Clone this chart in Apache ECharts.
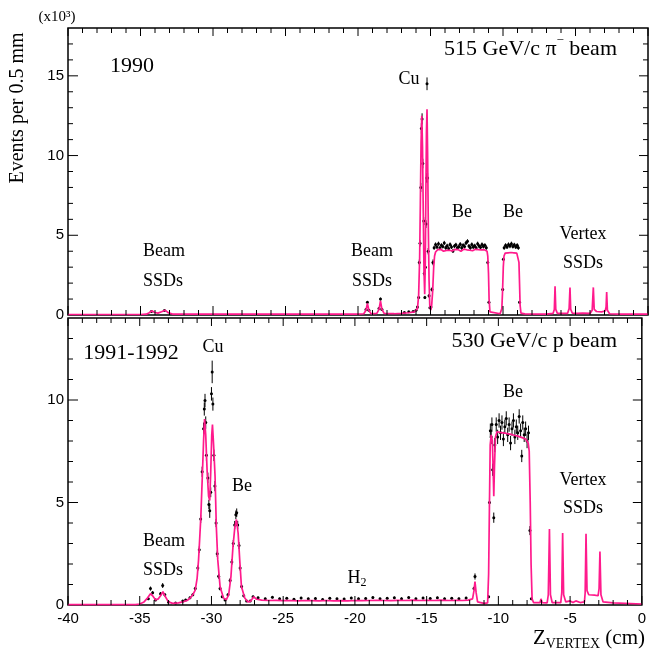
<!DOCTYPE html>
<html>
<head>
<meta charset="utf-8">
<script src="https://cdn.jsdelivr.net/npm/echarts@6/dist/echarts.min.js"></script>
<style>
html, body { margin: 0; padding: 0; background: #fff; }
#chart { width: 649px; height: 654px; }
</style>
</head>
<body>
<div id="chart"></div>
<script>
// Vertex z distributions (events per 0.5 mm, in thousands) for two run periods.
// Simulation curves: [z (cm), events]
const mc1990 = [
  [-40,0.03],[-35.0,0.03],[-34.6,0.05],[-34.4,0.14],[-34.22,0.26],[-34.05,0.17],[-33.8,0.12],[-33.55,0.2],
  [-33.3,0.3],[-33.1,0.15],[-32.8,0.06],[-30,0.05],[-25,0.05],[-20.0,0.05],[-19.6,0.08],[-19.45,0.3],
  [-19.35,0.72],[-19.25,0.3],[-19.1,0.08],[-18.7,0.1],[-18.55,0.35],[-18.45,0.88],[-18.35,0.35],[-18.2,0.1],
  [-17.5,0.08],[-17.0,0.1],[-16.5,0.14],[-16.1,0.2],[-15.9,0.4],[-15.82,1.2],[-15.75,3.5],[-15.7,7.0],
  [-15.65,10.8],[-15.6,12.5],[-15.55,10.5],[-15.5,6.5],[-15.45,2.8],[-15.4,1.3],[-15.36,3.2],[-15.32,7.5],
  [-15.28,11.5],[-15.24,12.9],[-15.2,10.2],[-15.15,5.5],[-15.1,2.2],[-15.05,0.6],[-14.98,0.3],[-14.92,0.6],
  [-14.85,1.5],[-14.78,3.0],[-14.72,3.7],[-14.65,3.95],
  [-14.6,4.02],[-14.5,4.1],[-14.4,4.05],[-14.3,4.12],[-14.2,4.08],[-14.1,4.0],[-14.0,4.1],[-13.9,4.05],
  [-13.8,4.14],[-13.7,4.06],[-13.6,4.1],[-13.5,4.02],[-13.4,4.08],[-13.3,4.12],[-13.2,4.04],[-13.1,4.1],
  [-13.0,4.07],[-12.9,4.0],[-12.8,4.1],[-12.7,4.13],[-12.6,4.05],[-12.5,4.09],[-12.4,4.15],[-12.3,4.06],
  [-12.2,4.1],[-12.1,4.03],[-12.0,4.08],[-11.9,4.12],[-11.8,4.05],[-11.7,4.1],[-11.6,4.02],[-11.5,4.09],
  [-11.4,4.04],[-11.3,4.1],[-11.2,4.06],[-11.1,4.0],
  [-11.05,3.7],[-11.0,2.6],[-10.96,1.0],[-10.9,0.2],[-10.8,0.08],[-10.2,0.08],[-10.08,0.4],[-10.03,1.5],
  [-9.98,3.0],[-9.93,3.7],[-9.85,3.88],[-9.75,3.95],[-9.65,3.9],[-9.55,3.98],[-9.45,3.92],[-9.35,3.96],
  [-9.25,3.9],[-9.15,3.95],[-9.05,3.88],[-8.95,3.8],[-8.9,3.3],[-8.86,2.0],[-8.82,0.6],[-8.76,0.12],
  [-8.5,0.07],[-7.0,0.06],[-6.55,0.1],[-6.46,0.35],[-6.41,1.8],[-6.36,0.35],[-6.25,0.1],[-5.55,0.1],
  [-5.44,0.4],[-5.38,1.73],[-5.33,0.35],[-5.22,0.12],[-4.9,0.1],[-4.5,0.12],[-4.0,0.1],[-3.85,0.3],
  [-3.77,1.73],[-3.71,0.35],[-3.55,0.22],[-3.2,0.2],[-2.95,0.25],[-2.89,0.5],[-2.85,1.44],[-2.8,0.3],
  [-2.65,0.08],[-2.0,0.05],[0,0.05]
];

// Measured points: [z (cm), events, error]
const data1990 = [
  [-34.25,0.22,0.04],[-33.35,0.28,0.04],
  [-19.45,0.35,0.05],[-19.35,0.8,0.08],[-19.25,0.3,0.05],[-18.55,0.4,0.05],[-18.45,1.0,0.09],[-18.35,0.35,0.05],
  [-16.8,0.15,0.03],[-16.5,0.2,0.04],[-16.2,0.22,0.04],[-16.0,0.3,0.05],[-15.9,0.5,0.06],
  [-15.82,1.1,0.1],[-15.77,3.3,0.18],[-15.72,4.5,0.2],[-15.67,8.0,0.28],[-15.63,11.7,0.33],[-15.58,12.3,0.35],
  [-15.53,9.5,0.3],[-15.47,5.9,0.24],[-15.43,2.6,0.15],[-15.39,1.1,0.1],[-15.35,3.0,0.17],[-15.31,5.7,0.24],
  [-15.27,8.6,0.3],[-15.24,14.5,0.4],[-15.2,8.6,0.3],[-15.16,4.0,0.2],[-15.1,1.2,0.11],[-15.04,0.45,0.07],
  [-14.97,0.5,0.07],[-14.9,1.6,0.13],[-14.83,3.3,0.18],
  [-14.75,4.22,0.13],[-14.65,4.42,0.13],[-14.55,4.27,0.13],[-14.45,4.47,0.13],[-14.35,4.2,0.13],[-14.25,4.37,0.13],
  [-14.15,4.3,0.13],[-14.05,4.52,0.13],[-13.95,4.22,0.13],[-13.85,4.34,0.13],[-13.75,4.17,0.13],[-13.65,4.42,0.13],
  [-13.55,4.27,0.13],[-13.45,4.02,0.13],[-13.35,4.32,0.13],[-13.25,4.4,0.13],[-13.15,4.22,0.13],[-13.05,4.28,0.13],
  [-12.95,4.44,0.13],[-12.85,4.22,0.13],[-12.75,4.37,0.13],[-12.65,4.3,0.13],[-12.55,4.52,0.13],[-12.45,4.62,0.13],
  [-12.35,4.32,0.13],[-12.25,4.22,0.13],[-12.15,4.42,0.13],[-12.05,4.27,0.13],[-11.95,4.34,0.13],[-11.85,4.2,0.13],
  [-11.75,4.47,0.13],[-11.65,4.32,0.13],[-11.55,4.25,0.13],[-11.45,4.42,0.13],[-11.35,4.3,0.13],[-11.25,4.37,0.13],
  [-11.15,4.22,0.13],[-11.05,3.3,0.12],[-10.97,0.8,0.07],
  [-10.02,1.6,0.09],[-9.97,3.5,0.12],[-9.92,4.22,0.13],[-9.82,4.37,0.13],[-9.72,4.27,0.13],[-9.62,4.42,0.13],
  [-9.52,4.32,0.13],[-9.42,4.47,0.13],[-9.32,4.3,0.13],[-9.22,4.4,0.13],[-9.12,4.27,0.13],[-9.02,4.37,0.13],
  [-8.94,4.22,0.13],[-8.86,0.8,0.07]
];

const mc9192 = [
  [-40,0.02],[-35.3,0.02],[-35.0,0.05],[-34.7,0.15],[-34.45,0.35],[-34.25,0.55],[-34.1,0.45],[-33.9,0.25],
  [-33.7,0.3],[-33.5,0.5],[-33.38,0.65],[-33.25,0.45],[-33.0,0.15],[-32.7,0.08],[-32.3,0.1],[-32.0,0.15],
  [-31.7,0.22],[-31.5,0.33],[-31.3,0.5],[-31.13,0.73],[-31.0,1.3],[-30.9,2.2],[-30.8,3.5],[-30.74,4.3],
  [-30.62,6.6],[-30.55,8.0],[-30.48,9.07],[-30.4,8.3],[-30.3,6.5],[-30.2,5.3],[-30.12,5.1],[-30.05,6.5],
  [-29.98,8.3],[-29.93,8.8],[-29.85,7.8],[-29.75,6.3],[-29.66,3.8],[-29.56,2.2],[-29.4,0.9],[-29.17,0.35],
  [-28.97,0.25],[-28.8,0.5],[-28.64,1.4],[-28.5,2.85],[-28.37,3.8],[-28.26,4.17],[-28.14,3.5],[-28.03,2.2],
  [-27.91,0.9],[-27.68,0.34],[-27.45,0.15],[-27.25,0.2],[-27.06,0.4],[-26.85,0.28],
  [-26.5,0.24],[-26.0,0.22],[-25.5,0.23],[-25.0,0.21],[-24.5,0.22],[-24.0,0.2],[-23.5,0.22],[-23.0,0.21],
  [-22.5,0.2],[-22.0,0.22],[-21.5,0.2],[-21.0,0.21],[-20.5,0.2],[-20.0,0.22],[-19.5,0.21],[-19.0,0.22],
  [-18.5,0.23],[-18.0,0.22],[-17.5,0.21],[-17.0,0.23],[-16.5,0.22],[-16.0,0.24],[-15.5,0.22],[-15.0,0.23],
  [-14.5,0.22],[-14.0,0.24],[-13.5,0.22],[-13.0,0.23],[-12.5,0.22],[-12.1,0.24],
  [-11.8,0.3],[-11.7,0.7],[-11.63,1.14],[-11.55,0.6],[-11.45,0.15],[-11.0,0.08],[-10.75,0.1],[-10.68,1.5],
  [-10.62,5.0],[-10.57,7.8],[-10.5,8.3],[-10.42,8.0],[-10.36,6.5],[-10.32,5.3],[-10.27,6.8],[-10.2,8.2],
  [-10.1,8.45],[-10.0,8.5],[-9.9,8.42],[-9.8,8.48],[-9.7,8.4],[-9.6,8.45],[-9.5,8.38],[-9.4,8.42],
  [-9.3,8.35],[-9.2,8.4],[-9.1,8.32],[-9.0,8.36],[-8.9,8.28],[-8.8,8.32],[-8.7,8.25],[-8.6,8.28],
  [-8.5,8.2],[-8.4,8.24],[-8.3,8.15],[-8.2,8.18],[-8.1,8.1],[-8.0,8.08],[-7.92,7.9],
  [-7.85,7.5],[-7.78,5.0],[-7.72,2.0],[-7.65,0.3],[-7.55,0.12],[-7.1,0.12],[-7.03,0.3],[-6.95,0.12],
  [-6.6,0.1],[-6.52,0.5],[-6.44,3.71],[-6.37,0.5],[-6.25,0.12],[-5.65,0.12],[-5.58,0.6],[-5.52,3.51],
  [-5.45,0.5],[-5.3,0.15],[-5.0,0.2],[-4.8,0.12],[-4.6,0.2],[-4.3,0.12],[-4.0,0.15],[-3.95,0.6],
  [-3.89,3.48],[-3.82,0.7],[-3.7,0.5],[-3.3,0.48],[-3.05,0.45],[-2.98,0.8],[-2.92,2.61],[-2.85,0.5],
  [-2.7,0.15],[-2.0,0.1],[0,0.05]
];

const data9192 = [
  [-34.4,0.3,0.06],[-34.25,0.8,0.1],[-34.1,0.6,0.08],[-33.9,0.25,0.06],[-33.55,0.55,0.08],[-33.4,0.95,0.12],
  [-33.25,0.5,0.08],[-33.0,0.15,0.04],[-32.5,0.1,0.04],[-32.0,0.2,0.05],[-31.8,0.25,0.05],[-31.5,0.35,0.06],
  [-31.3,0.5,0.07],[-31.13,0.8,0.09],[-30.95,1.8,0.13],[-30.85,2.7,0.16],[-30.75,4.2,0.2],[-30.65,6.5,0.25],
  [-30.55,8.6,0.3],[-30.5,9.56,0.32],[-30.45,9.97,0.33],[-30.4,8.9,0.3],[-30.35,7.3,0.28],[-30.25,6.2,0.26],
  [-30.18,4.9,0.23],[-30.12,4.6,0.35],[-30.05,5.5,0.24],[-30.0,10.3,0.33],[-29.95,11.37,0.55],[-29.9,9.8,0.32],
  [-29.83,7.3,0.28],[-29.76,5.8,0.25],[-29.68,4.0,0.2],[-29.6,2.5,0.16],[-29.5,1.4,0.12],[-29.4,0.8,0.09],
  [-29.25,0.4,0.06],[-29.05,0.25,0.05],[-28.85,0.5,0.07],[-28.7,1.2,0.11],[-28.58,2.1,0.14],[-28.48,3.0,0.17],
  [-28.38,3.9,0.2],[-28.3,4.4,0.21],[-28.24,4.5,0.21],[-28.17,3.9,0.2],[-28.08,2.9,0.17],[-28.0,1.8,0.13],
  [-27.9,0.9,0.1],[-27.75,0.45,0.07],[-27.55,0.2,0.05],[-27.3,0.2,0.05],[-27.1,0.4,0.06],
  [-26.75,0.35,0.06],[-26.25,0.3,0.06],[-25.75,0.38,0.06],[-25.25,0.3,0.06],[-24.75,0.33,0.06],[-24.25,0.28,0.06],
  [-23.75,0.34,0.06],[-23.25,0.3,0.06],[-22.75,0.32,0.06],[-22.25,0.27,0.06],[-21.75,0.33,0.06],[-21.25,0.3,0.06],
  [-20.75,0.29,0.06],[-20.25,0.34,0.06],[-19.75,0.3,0.06],[-19.25,0.32,0.06],[-18.75,0.36,0.06],[-18.25,0.3,0.06],
  [-17.75,0.33,0.06],[-17.25,0.35,0.06],[-16.75,0.31,0.06],[-16.25,0.36,0.06],[-15.75,0.3,0.06],[-15.25,0.34,0.06],
  [-14.75,0.32,0.06],[-14.25,0.35,0.06],[-13.75,0.3,0.06],[-13.25,0.33,0.06],[-12.75,0.31,0.06],[-12.25,0.34,0.06],
  [-11.7,0.8,0.09],[-11.63,1.39,0.15],
  [-10.68,0.4,0.07],[-10.62,5.0,0.25],[-10.56,8.5,0.35],[-10.5,8.2,0.35],[-10.45,8.8,0.35],[-10.4,6.6,0.3],
  [-10.32,4.26,0.25],[-10.25,7.8,0.35],
  [-10.15,8.8,0.35],[-10.05,8.2,0.35],[-9.95,9.0,0.35],[-9.85,8.4,0.35],[-9.75,8.9,0.35],[-9.65,8.1,0.35],
  [-9.55,8.7,0.35],[-9.45,9.1,0.35],[-9.35,8.3,0.35],[-9.25,8.8,0.35],[-9.15,7.9,0.35],[-9.05,8.6,0.35],
  [-8.95,9.0,0.35],[-8.85,8.2,0.35],[-8.75,8.7,0.35],[-8.65,8.4,0.35],[-8.55,9.2,0.35],[-8.45,8.5,0.35],
  [-8.37,7.27,0.3],[-8.3,8.9,0.35],[-8.2,8.3,0.35],[-8.1,8.6,0.35],[-8.0,8.0,0.35],[-7.9,8.4,0.35],
  [-7.8,3.63,0.22],[-7.7,0.3,0.06]
];

// Axis scales and tick labels
const zRange = [-40, 0];
const yMaxTop = 18;
const yMaxBottom = 14;
const majorStep = 5;
const minorStep = 1;

const PINK = '#ff1a8c';
const SERIF = '"Liberation Serif", "DejaVu Serif", serif';
const SANS = '"Liberation Sans", Arial, sans-serif';

const chart = echarts.init(document.getElementById('chart'), null, { renderer: 'canvas' });

function xAxisFor(gridIndex, withLabels) {
  return {
    gridIndex, type: 'value', min: zRange[0], max: zRange[1], interval: majorStep,
    splitLine: { show: false }, axisLine: { show: false, onZero: false }, axisTick: { show: false },
    axisLabel: { show: withLabels, margin: 6, color: '#000', fontFamily: SANS, fontSize: 15 }
  };
}

function yAxisFor(gridIndex, yMax) {
  return {
    gridIndex, type: 'value', min: 0, max: yMax, interval: majorStep,
    splitLine: { show: false }, axisLine: { show: false, onZero: false }, axisTick: { show: false },
    axisLabel: {
      show: true, margin: 4, color: '#000', fontFamily: SANS, fontSize: 15,
      formatter: v => (v % majorStep === 0 ? String(v) : '')
    }
  };
}

// Data points drawn as dots with vertical error bars
function errorPoint(params, api) {
  const x = api.value(0), y = api.value(1), e = api.value(2);
  const p = api.coord([x, y]);
  const lo = api.coord([x, Math.max(0, y - e)]);
  const hi = api.coord([x, y + e]);
  return {
    type: 'group',
    children: [
      { type: 'line', shape: { x1: p[0], y1: lo[1], x2: p[0], y2: hi[1] },
        style: { stroke: '#000', lineWidth: 1 } },
      { type: 'circle', shape: { cx: p[0], cy: p[1], r: 1.5 }, style: { fill: '#000' } }
    ]
  };
}

function pointsSeries(data, axisIndex) {
  return {
    type: 'custom', xAxisIndex: axisIndex, yAxisIndex: axisIndex,
    data, renderItem: errorPoint, encode: { x: 0, y: 1 }
  };
}

function curveSeries(data, axisIndex) {
  return {
    type: 'line', xAxisIndex: axisIndex, yAxisIndex: axisIndex,
    data, showSymbol: false, symbol: 'none',
    lineStyle: { color: PINK, width: 1.7 }
  };
}

function label(text, x, y, size, extra) {
  return Object.assign({
    type: 'text', x, y,
    style: { text, fill: '#000', fontFamily: SERIF, fontSize: size, align: 'center', verticalAlign: 'middle' }
  }, extra || {});
}

const annotations = [
  label('(x10³)', 57, 17, 15),
  label('Events per 0.5 mm', 18, 108, 20, { rotation: Math.PI / 2 }),
  {
    type: 'text', x: 645, y: 638,
    style: {
      text: '{z|Z}{s|VERTEX}{z| (cm)}', align: 'right', verticalAlign: 'middle',
      rich: {
        z: { fontFamily: SERIF, fontSize: 21, lineHeight: 26, fill: '#000' },
        s: { fontFamily: SERIF, fontSize: 14, lineHeight: 12, verticalAlign: 'bottom', fill: '#000' }
      }
    }
  },
  // 1990 panel
  label('1990', 132, 66, 22),
  {
    type: 'text', x: 617, y: 49,
    style: {
      text: '{a|515 GeV/c π}{s|−}{a| beam}', align: 'right', verticalAlign: 'middle',
      rich: {
        a: { fontFamily: SERIF, fontSize: 22, lineHeight: 30, fill: '#000' },
        s: { fontFamily: SERIF, fontSize: 13, lineHeight: 12, verticalAlign: 'top', fill: '#000' }
      }
    }
  },
  label('Beam', 164, 251, 18),
  label('SSDs', 163, 281, 18),
  label('Beam', 372, 251, 18),
  label('SSDs', 372, 281, 18),
  label('Cu', 409, 79, 18),
  label('Be', 462, 212, 18),
  label('Be', 513, 212, 18),
  label('Vertex', 583, 234, 18),
  label('SSDs', 583, 263, 18),
  // 1991-1992 panel
  label('1991-1992', 131, 353, 22),
  {
    type: 'text', x: 617, y: 341,
    style: { text: '530 GeV/c p beam', fill: '#000', fontFamily: SERIF, fontSize: 22,
      align: 'right', verticalAlign: 'middle' }
  },
  label('Cu', 213, 347, 18),
  label('Be', 242, 486, 18),
  label('Beam', 164, 541, 18),
  label('SSDs', 163, 570, 18),
  {
    type: 'text', x: 357, y: 578,
    style: {
      text: '{a|H}{s|2}', align: 'center', verticalAlign: 'middle',
      rich: {
        a: { fontFamily: SERIF, fontSize: 18, lineHeight: 22, fill: '#000' },
        s: { fontFamily: SERIF, fontSize: 12, lineHeight: 10, verticalAlign: 'bottom', fill: '#000' }
      }
    }
  },
  label('Be', 513, 392, 18),
  label('Vertex', 583, 480, 18),
  label('SSDs', 583, 508, 18)
];

const option = {
  animation: false,
  grid: [
    { left: 68, right: 1, top: 28, height: 287, show: true, borderColor: '#000', borderWidth: 1.5 },
    { left: 68, right: 1, top: 318, height: 287, show: true, borderColor: '#000', borderWidth: 1.5 }
  ],
  xAxis: [xAxisFor(0, false), xAxisFor(1, true)],
  yAxis: [yAxisFor(0, yMaxTop), yAxisFor(1, yMaxBottom)],
  series: [
    pointsSeries(data1990, 0),
    curveSeries(mc1990, 0),
    pointsSeries(data9192, 1),
    curveSeries(mc9192, 1)
  ],
  graphic: annotations
};

chart.setOption(option);

// Inward tick marks on all four sides of each frame, placed through the axis scales
function tickSegment(x1, y1, x2, y2) {
  return {
    type: 'line', silent: true, z: 100,
    shape: { x1, y1, x2, y2 },
    style: { stroke: '#000', lineWidth: 1 }
  };
}

function frameTickMarks(gridIndex, yMax) {
  const finder = { xAxisIndex: gridIndex, yAxisIndex: gridIndex };
  const marks = [];
  for (let v = zRange[0]; v <= zRange[1]; v += minorStep) {
    const major = v % majorStep === 0;
    const b = chart.convertToPixel(finder, [v, 0]);
    const t = chart.convertToPixel(finder, [v, yMax]);
    marks.push(tickSegment(b[0], b[1], b[0], b[1] - (major ? 9 : 5)));
    marks.push(tickSegment(t[0], t[1], t[0], t[1] + (major ? 8 : 5)));
  }
  for (let v = minorStep; v < yMax; v += minorStep) {
    const major = v % majorStep === 0;
    const l = chart.convertToPixel(finder, [zRange[0], v]);
    const r = chart.convertToPixel(finder, [zRange[1], v]);
    marks.push(tickSegment(l[0], l[1], l[0] + (major ? 10 : 5), l[1]));
    marks.push(tickSegment(r[0], r[1], r[0] - (major ? 9 : 5), r[1]));
  }
  return marks;
}

chart.setOption({
  graphic: annotations.concat(frameTickMarks(0, yMaxTop), frameTickMarks(1, yMaxBottom))
});
</script>
</body>
</html>
